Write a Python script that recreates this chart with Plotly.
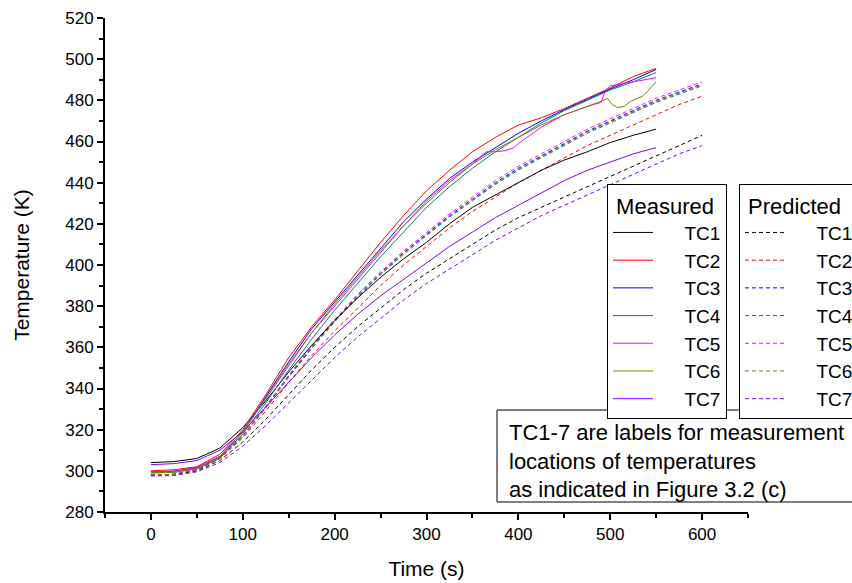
import plotly.graph_objects as go

# ---- data ----
t_meas = [0, 25, 50, 75, 100, 125, 150, 175, 200, 225, 250, 275, 300, 325, 350,
          375, 400, 425, 450, 475, 500, 525, 550]
tc1_meas = [304, 304.5, 306, 311, 321, 334, 348, 361, 373, 384, 394, 403, 411, 420, 428,
            434, 440, 446, 451, 455, 459.5, 463, 466]
tc2_meas = [300, 300.5, 302, 308, 320, 337, 355, 370, 383, 397, 411, 424, 436, 446, 455,
            462, 468, 471.5, 476, 481, 486, 491.5, 495.5]
tc3_meas = [299.5, 299.8, 301.5, 307, 319, 336, 353, 369, 382, 395, 408, 421, 432, 442, 450,
            457, 464, 470, 475.5, 480.5, 485.5, 490, 495]
tc4_meas = [299, 299.3, 301, 306, 318, 333, 349, 364, 378, 391, 404, 416, 428, 438, 447,
            455, 462, 469, 475, 480, 485, 489, 493.5]
tc7_meas = [303, 303.5, 305, 310, 319, 331, 343, 355, 366, 376, 385, 393, 401, 409, 416,
            423, 429, 435, 441, 446, 450, 454, 457]

t_tc5 = [0, 25, 50, 75, 100, 125, 150, 175, 200, 225, 250, 275, 300, 325, 350, 365,
         375, 385, 395, 400, 425, 450, 475, 490, 495, 500, 525, 550]
tc5_meas = [299.5, 299.8, 301.5, 307, 319, 335, 351, 367, 380, 393, 406, 419, 431, 441, 449, 455,
            455, 455.5, 457, 459, 467, 473, 477, 479, 485, 487, 489, 491]

t_tc6 = [0, 25, 50, 75, 100, 125, 150, 175, 200, 225, 250, 275, 300, 325, 350, 375, 400,
         425, 450, 475, 490, 497, 502, 508, 515, 522, 528, 535, 542, 550]
tc6_meas = [299, 299.3, 301, 306.5, 319, 335, 352, 367, 381, 394, 407, 419, 430, 440, 449, 456, 462,
            468, 473, 477, 479.5, 481, 478, 476.5, 477, 479.5, 480.5, 482, 485, 489]

t_pred = [0, 25, 50, 75, 100, 125, 150, 175, 200, 225, 250, 275, 300, 325, 350, 375, 400,
          425, 450, 475, 500, 525, 550, 575, 600]
tc1_pred = [298, 298.2, 300, 305, 314, 325, 337, 349, 360, 370, 379, 388, 396, 403, 410, 417, 423,
            428, 433, 438, 443, 448, 453, 458, 463]
tc2_pred = [298, 298.3, 300.5, 306, 316, 329, 343, 356, 368, 379, 390, 400, 409, 418, 426, 433, 440,
            446, 452, 458, 463, 468, 473, 478, 482]
tc3_pred = [298, 298.3, 300.5, 306.5, 317, 331, 346, 360, 373, 385, 396, 406, 415, 424, 432, 440, 447,
            453, 459, 465, 470, 475, 480, 484, 488]
tc4_pred = [298, 298.3, 300.5, 306.3, 316.7, 330.6, 345.5, 359.4, 372.4, 384.3, 395.3, 405.2, 414.3, 423.2, 431.2, 439.1, 446.1,
            452.1, 458.1, 464, 469, 474, 479, 483, 487]
tc5_pred = [298, 298.3, 300.6, 306.7, 317.3, 331.4, 346.5, 360.6, 373.6, 385.7, 396.7, 406.8, 415.8, 424.9, 433, 441, 448,
            454, 460, 466, 471, 476, 481, 485, 489]
tc6_pred = [298, 298.3, 300.5, 306.4, 316.9, 330.8, 345.7, 359.7, 372.7, 384.6, 395.6, 405.6, 414.6, 423.6, 431.6, 439.5, 446.5,
            452.5, 458.5, 464.5, 469.5, 474.5, 479.5, 483.5, 487.5]
tc7_pred = [297.5, 297.7, 299.5, 304, 312, 322, 333, 344, 355, 365, 374, 383, 391, 398, 405, 412, 418,
            424, 429, 434, 439, 444, 449, 454, 458]

names = ["TC1", "TC2", "TC3", "TC4", "TC5", "TC6", "TC7"]
colors = ["#000000", "#FF0000", "#0000FF", "#008080", "#FF00FF", "#808000", "#8000FF"]

meas_x = [t_meas, t_meas, t_meas, t_meas, t_tc5, t_tc6, t_meas]
meas_y = [tc1_meas, tc2_meas, tc3_meas, tc4_meas, tc5_meas, tc6_meas, tc7_meas]
pred_y = [tc1_pred, tc2_pred, tc3_pred, tc4_pred, tc5_pred, tc6_pred, tc7_pred]

FONT = "Arial, Liberation Sans, sans-serif"
PAD = "\u00a0" * 5

fig = go.Figure()
for i in range(7):
    fig.add_trace(go.Scatter(x=t_pred, y=pred_y[i], mode="lines", name=PAD + names[i],
                             line=dict(color=colors[i], width=1, dash="4px,3px"),
                             legend="legend2"))
for i in range(7):
    fig.add_trace(go.Scatter(x=meas_x[i], y=meas_y[i], mode="lines", name=PAD + names[i],
                             line=dict(color=colors[i], width=1),
                             legend="legend"))

L, R, T, B = 105, 748, 18, 512
W, H = 852, 583
pw, ph = R - L, B - T

def px(x):
    return (x - L) / pw

def py(y):
    return (B - y) / ph

fig.update_layout(
    width=W, height=H,
    margin=dict(l=L, r=W - R, t=T, b=H - B, autoexpand=False),
    paper_bgcolor="white", plot_bgcolor="white",
    font=dict(family=FONT, color="black", size=17),
    legend=dict(title=dict(text="\u00a0Measured", font=dict(size=22)),
                font=dict(size=19), x=px(607), y=py(184), xanchor="left", yanchor="top",
                bordercolor="black", borderwidth=1, bgcolor="white",
                traceorder="normal", itemwidth=40),
    legend2=dict(title=dict(text="\u00a0Predicted", font=dict(size=22)),
                 font=dict(size=19), x=px(739), y=py(184), xanchor="left", yanchor="top",
                 bordercolor="black", borderwidth=1, bgcolor="white",
                 traceorder="normal", itemwidth=40),
    xaxis=dict(range=[-50, 650], tick0=0, dtick=100, showgrid=False, zeroline=False,
               showline=True, linecolor="black", linewidth=2,
               ticks="outside", ticklen=6, tickwidth=2, tickcolor="black",
               minor=dict(ticks="outside", ticklen=4, tickwidth=1.5, dtick=50, tickcolor="black"),
               title=dict(text="Time (s)", font=dict(size=21), standoff=18),
               tickfont=dict(size=17)),
    yaxis=dict(range=[280, 520], tick0=280, dtick=20, showgrid=False, zeroline=False,
               showline=True, linecolor="black", linewidth=2,
               ticks="outside", ticklen=6, tickwidth=2, tickcolor="black",
               minor=dict(ticks="outside", ticklen=4, tickwidth=1.5, dtick=10, tickcolor="black"),
               title=dict(text="Temperature (K)", font=dict(size=21), standoff=30),
               tickfont=dict(size=17)),
    shapes=[dict(type="rect", xref="paper", yref="paper",
                 x0=px(497), x1=px(900), y0=py(502), y1=py(410),
                 line=dict(color="black", width=1), fillcolor="white", layer="above")],
    annotations=[dict(text="TC1-7 are labels for measurement<br>locations of temperatures<br>as indicated in Figure 3.2 (c)",
                      xref="paper", yref="paper", x=px(507), y=py(418),
                      xanchor="left", yanchor="top", align="left", showarrow=False,
                      font=dict(size=22))],
)

fig.write_html("out.html", config={"displayModeBar": False})
